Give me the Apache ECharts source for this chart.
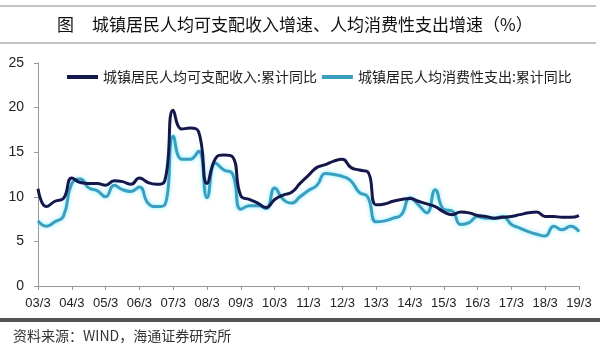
<!DOCTYPE html>
<html>
<head>
<meta charset="utf-8">
<script src="https://cdn.jsdelivr.net/npm/echarts@6/dist/echarts.min.js"></script>
<style>
  html, body { margin: 0; padding: 0; background: #fff; }
  #main { width: 600px; height: 353px; }
</style>
</head>
<body>
<div id="main"></div>
<script>
// 年份，季度
var years = ['03', '04', '05', '06', '07', '08', '09', '10', '11', '12', '13', '14', '15', '16', '17', '18', '19'];
var months = ['3', '6', '9', '12'];

// 城镇居民人均可支配收入:累计同比 (%)
var income = [
  10.9, 8.9, 9.5, 9.8,
  12.1, 11.6, 11.5, 11.5,
  11.3, 11.8, 11.7, 11.4,
  12.1, 11.6, 11.4, 11.8,
  19.7, 17.6, 17.7, 17.3,
  11.5, 14.3, 14.7, 14.5,
  10.1, 9.7, 9.3, 8.8,
  9.7, 10.2, 10.5, 11.5,
  12.4, 13.3, 13.6, 14.0,
  14.2, 13.3, 13.0, 12.8,
  9.1, 9.2, 9.5, 9.7,
  9.8, 9.5, 9.2, 8.9,
  8.3, 8.0, 8.3, 8.2,
  7.9, 7.8, 7.6, 7.7,
  7.8, 8.0, 8.2, 8.3,
  7.8, 7.8, 7.7, 7.7,
  7.9
];

// 城镇居民人均消费性支出:累计同比 (%)
var consumption = [
  7.3, 6.7, 7.2, 7.8,
  11.5, 12.0, 11.0, 10.7,
  10.0, 11.3, 10.8, 10.6,
  11.1, 9.3, 8.9, 9.1,
  16.8, 14.2, 14.2, 15.1,
  9.9, 13.8, 13.0, 12.6,
  8.6, 9.0, 9.0, 8.7,
  11.0, 9.7, 9.3, 10.0,
  10.7, 11.3, 12.6, 12.5,
  12.3, 11.8, 10.5, 10.0,
  7.2, 7.3, 7.6, 8.0,
  9.9, 9.1, 8.2, 10.8,
  8.6, 8.4, 6.9, 7.1,
  7.8, 7.6, 7.6, 7.8,
  6.9, 6.5, 6.1, 5.8,
  5.6, 6.7, 6.3, 6.7,
  6.1
];

var seriesNames = ['城镇居民人均可支配收入:累计同比', '城镇居民人均消费性支出:累计同比'];
var yTicks = [0, 25, 5]; // min, max, interval

var categories = [];
years.forEach(function (y, i) {
  months.forEach(function (m) {
    if (i < years.length - 1 || m === '3') categories.push(y + '/' + m);
  });
});

var chartDom = document.getElementById('main');
var myChart = echarts.init(chartDom);
var option;

var cjk = '"Noto Sans CJK SC", sans-serif';
var latin = 'Arial, "Liberation Sans", sans-serif';

option = {
  backgroundColor: '#fff',
  animation: false,
  grid: { left: 38, right: 21, top: 63, bottom: 67 },
  legend: {
    left: 62,
    top: 65,
    icon: 'rect',
    itemWidth: 31,
    itemHeight: 4,
    itemGap: 5,
    textStyle: { fontFamily: cjk, fontSize: 14, color: '#222' },
    data: seriesNames
  },
  xAxis: {
    type: 'category',
    data: categories,
    boundaryGap: false,
    axisLine: { lineStyle: { color: '#999', width: 1 } },
    axisTick: { interval: 3, length: 4, lineStyle: { color: '#999' } },
    axisLabel: { interval: 3, margin: 11, fontFamily: latin, fontSize: 13, color: '#222' }
  },
  yAxis: {
    type: 'value',
    min: yTicks[0],
    max: yTicks[1],
    interval: yTicks[2],
    splitLine: { show: false },
    axisLine: { show: true, lineStyle: { color: '#999', width: 1 } },
    axisTick: { show: true, length: 4, lineStyle: { color: '#999' } },
    axisLabel: { margin: 14, fontFamily: latin, fontSize: 14, color: '#222' }
  },
  series: [
    {
      name: seriesNames[0],
      type: 'line',
      data: income,
      smooth: 0.5,
      showSymbol: false,
      color: '#14184c',
      lineStyle: { width: 3, color: '#14184c' },
      z: 3
    },
    {
      name: seriesNames[1],
      type: 'line',
      data: consumption,
      smooth: 0.5,
      showSymbol: false,
      color: '#3a9ec0',
      lineStyle: {
        width: 3,
        color: '#3a9ec0',
        shadowColor: 'rgba(120,235,255,0.9)',
        shadowBlur: 4
      },
      z: 2
    }
  ],
  graphic: [
    { type: 'line', shape: { x1: 0, y1: 6, x2: 596, y2: 6 }, style: { stroke: '#888', lineWidth: 1 } },
    { type: 'line', shape: { x1: 0, y1: 43, x2: 596, y2: 43 }, style: { stroke: '#888', lineWidth: 1 } },
    { type: 'text', left: 57, top: 16, style: { text: '图', font: '17px ' + cjk, fill: '#111' } },
    { type: 'text', left: 92, top: 16, style: { text: '城镇居民人均可支配收入增速、人均消费性支出增速（%）', font: '17px ' + cjk, fill: '#111' } },
    { type: 'rect', shape: { x: 0, y: 318, width: 600, height: 4 }, style: { fill: '#555' } },
    { type: 'text', left: 13, top: 329, style: { text: '资料来源：WIND，海通证券研究所', font: '14px ' + cjk, fill: '#333' } }
  ]
};

option && myChart.setOption(option);
</script>
</body>
</html>
